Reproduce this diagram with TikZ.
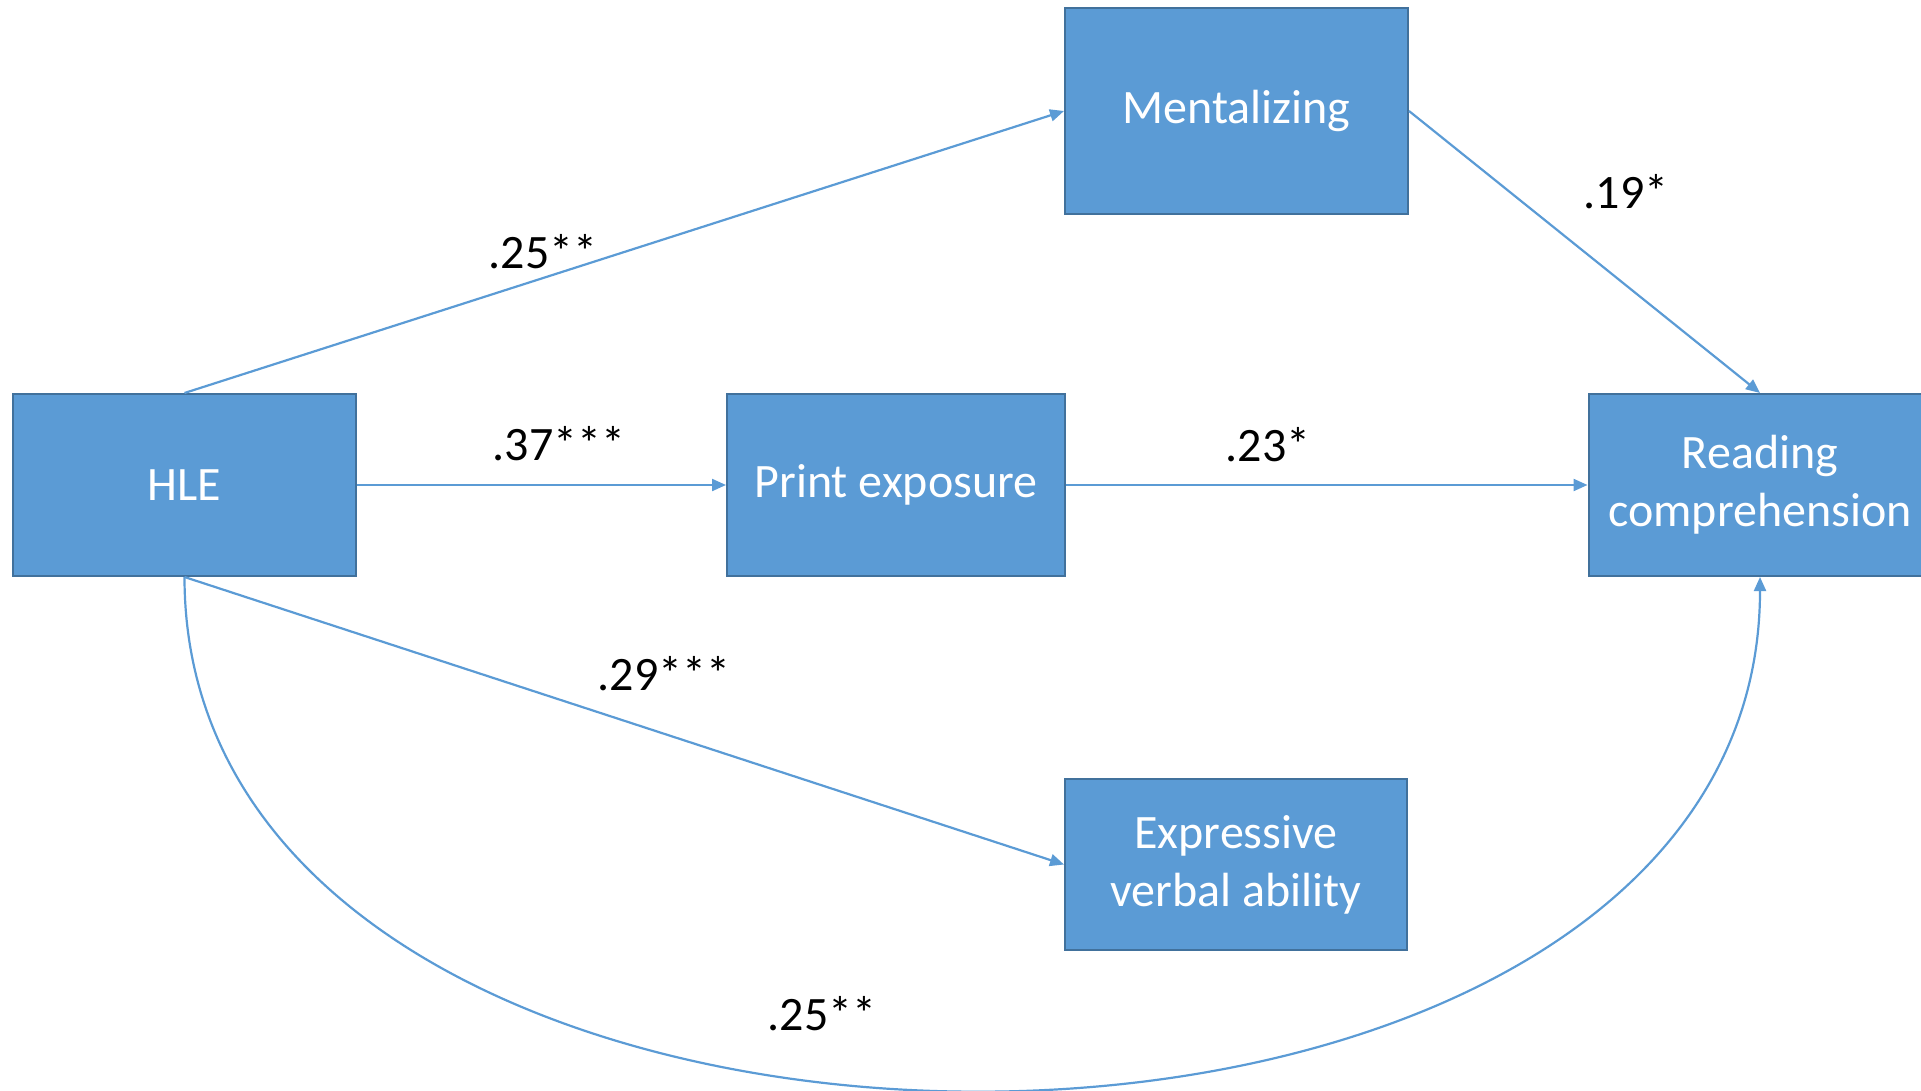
\documentclass[tikz,border=0pt]{standalone}
\usepackage{fontspec}
\setmainfont{Carlito}
\usetikzlibrary{arrows.meta}
\definecolor{boxfill}{HTML}{5B9BD5}
\definecolor{boxedge}{HTML}{41719C}
\definecolor{linkcol}{HTML}{5B9BD5}
\tikzset{
  varbox/.style={draw=boxedge, line width=1pt, fill=boxfill, text=white, align=center,
    inner sep=0pt, font=\fontsize{24}{29}\selectfont},
  link/.style={draw=linkcol, line width=1.1pt, -{Triangle[length=7pt,width=6pt]}},
  coef/.style={inner sep=0pt, font=\fontsize{24}{28}\selectfont}
}
\begin{document}
\begin{tikzpicture}[x=0.5pt,y=-0.5pt]
\clip (0,0) rectangle (1921,1091);

% Boxes
\node[varbox, minimum width=171.5pt, minimum height=103pt] (ment) at (1236.5,111) {Mentalizing};
\node[varbox, minimum width=171.5pt, minimum height=91pt] (hle) at (184.5,485) {HLE};
\node[varbox, minimum width=169pt, minimum height=91pt] (print) at (896,485) {Print exposure};
\node[varbox, minimum width=171.5pt, minimum height=91pt] (read) at (1760,485) {Reading\\comprehension};
\node[varbox, minimum width=171pt, minimum height=85.5pt] (expr) at (1236,864.5) {Expressive\\verbal ability};

% Paths
\draw[link] (hle.north) -- (ment.west);
\draw[link] (hle.east) -- (print.west);
\draw[link] (print.east) -- (read.west);
\draw[link] (ment.east) -- (read.north);
\draw[link] (hle.south) -- (expr.west);
\draw[link] (hle.south) .. controls (184.5,1261) and (1760,1261) .. (read.south);

% Coefficients
\node[coef] (c1) at (543,252) {.25**};
\node[coef] (c2) at (559,444) {.37***};
\node[coef] (c3) at (1268,445) {.23*};
\node[coef] (c4) at (1626,192) {.19*};
\node[coef] (c5) at (664,674) {.29***};
\node[coef] (c6) at (822,1014) {.25**};
\end{tikzpicture}
\end{document}
